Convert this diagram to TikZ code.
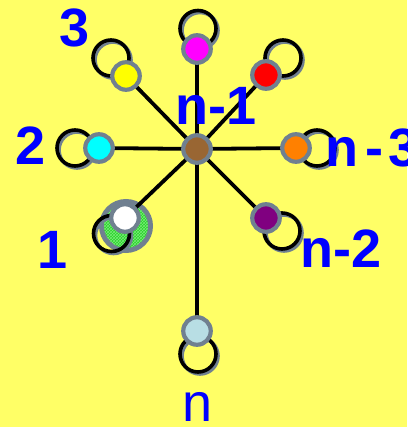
\documentclass[tikz,border=0pt]{standalone}
\usepackage{fontspec}
\setmainfont{Liberation Sans}
\usetikzlibrary{patterns}
\pgfdeclarelayer{back}
\pgfdeclarelayer{mid}
\pgfsetlayers{back,mid,main}
\definecolor{bgyellow}{RGB}{255,255,102}
\definecolor{rimgray}{RGB}{112,128,144}
\definecolor{hubbrown}{RGB}{153,102,51}
\definecolor{vyellow}{RGB}{255,255,0}
\definecolor{vmagenta}{RGB}{255,0,255}
\definecolor{vred}{RGB}{255,0,0}
\definecolor{vcyan}{RGB}{0,255,255}
\definecolor{vorange}{RGB}{255,128,0}
\definecolor{vpurple}{RGB}{128,0,128}
\definecolor{vpowder}{RGB}{184,222,228}
\definecolor{vgreen}{RGB}{40,210,40}
\definecolor{vgreenlight}{RGB}{120,235,120}
\definecolor{lblblue}{RGB}{0,0,255}
\begin{document}
\begin{tikzpicture}[x=1pt,y=-1pt,
  vtx/.style={circle,draw=rimgray,line width=4.2pt,minimum size=27.5pt,inner sep=0pt},
  edgeline/.style={line width=3.8pt,black},
  loopshadow/.style={line width=3.6pt,rimgray},
  loopline/.style={line width=3.6pt,black},
  lbl/.style={text=lblblue,font=\fontsize{54}{60}\selectfont\bfseries,inner sep=0pt},
  lblreg/.style={text=lblblue,font=\fontsize{54}{60}\selectfont,inner sep=0pt}]
\useasboundingbox (0,0) rectangle (407,427);
\begin{pgfonlayer}{back}
  \fill[bgyellow] (0,0) rectangle (407,427);
\end{pgfonlayer}
% vertices
\node[vtx,fill=hubbrown] (c) at (197,149) {};
\node[vtx,fill=vyellow] (v3) at (126,76) {};
\node[vtx,fill=vmagenta] (vm) at (197,49) {};
\node[vtx,fill=vred] (vr) at (266,75) {};
\node[vtx,fill=vcyan] (v2) at (99,148) {};
\node[vtx,fill=vorange] (vo) at (296,148) {};
\node[vtx,fill=vpurple] (vp) at (266,218) {};
\node[vtx,fill=white] (v1) at (125,218) {};
\node[vtx,fill=vpowder] (vn) at (197,331) {};
% green highlight behind vertex 1
\begin{pgfonlayer}{back}
  \draw[rimgray,line width=5pt,fill=vgreen] ([shift={(1,8)}]v1.center) circle[radius=24.5pt];
  \fill[pattern=crosshatch,pattern color=vgreenlight] ([shift={(1,8)}]v1.center) circle[radius=22pt];
\end{pgfonlayer}
% edges and loops
\begin{pgfonlayer}{mid}
  \foreach \v in {v3,vm,vr,v2,vo,vp,v1,vn}
    \draw[edgeline] (c.center) -- (\v.center);
  \foreach \v/\dx/\dy in {v3/-15/-18, vm/1/-20.5, vr/17/-17, v2/-24/0, vo/21/0, vp/16/13, v1/-13.5/15.5, vn/1/23}{
    \draw[loopshadow] ([shift={(\dx+2,\dy+2)}]\v.center) circle[radius=18pt];
    \draw[loopline] ([shift={(\dx,\dy)}]\v.center) circle[radius=18pt];
  }
\end{pgfonlayer}
% labels
\node[lbl,anchor=base] (l3) at (75,47) {3};
\node[lbl,anchor=base] (l2) at (30.5,165) {2};
\node[lbl,anchor=base] (l1) at (53,268) {1};
\node[lbl,anchor=base] (ln1) at (216,125) {n-1};
\node[lbl,anchor=base west] (ln3) at (325,167) {n\kern7pt-\kern5pt3};
\node[lbl,anchor=base west] (ln2) at (300,267) {n-2};
\node[lblreg,anchor=base] (ln) at (198,421) {n};
\end{tikzpicture}
\end{document}
